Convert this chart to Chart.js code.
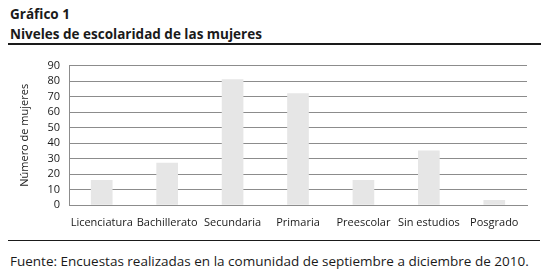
<!DOCTYPE html>
<html>
<head>
<meta charset="utf-8">
<script src="https://cdn.jsdelivr.net/npm/chart.js@4"></script>
<style>
    body { margin: 0; background: #fff; font-family: "Open Sans", sans-serif; color: #1a1a1a; }
    #page { position: relative; width: 547px; height: 277px; overflow: hidden; }
    .txt { position: absolute; left: 10px; font-size: 13.5px; line-height: 16px; white-space: nowrap; }
    .bold { font-weight: bold; }
    .rule { position: absolute; left: 8px; width: 533px; background: #1a1a1a; }
    #grafico { position: absolute; left: 0; top: 50px; }
</style>
</head>
<body>
<div id="page">
    <div class="txt bold" style="top:6px">Gráfico 1</div>
    <div class="txt bold" style="top:26px">Niveles de escolaridad de las mujeres</div>
    <div class="rule" style="top:43px;height:2px"></div>
    <canvas id="grafico" width="547" height="185"></canvas>
    <div class="rule" style="top:240px;height:1px;width:532px"></div>
    <div class="txt" style="top:253px">Fuente: Encuestas realizadas en la comunidad de septiembre a diciembre de 2010.</div>
</div>
<script>
    // datos
    var categorias = ['Licenciatura', 'Bachillerato', 'Secundaria', 'Primaria', 'Preescolar', 'Sin estudios', 'Posgrado'];
    var mujeres = [16, 27, 81, 72, 16, 35, 3];
    var ejeY = { min: 0, max: 90, paso: 10 };

    var fuente = { family: '"Open Sans", sans-serif', size: 11 };

    new Chart(document.getElementById('grafico'), {
        type: 'bar',
        data: {
            labels: categorias,
            datasets: [{
                data: mujeres,
                backgroundColor: '#e6e6e6',
                borderWidth: 0,
                barThickness: 21
            }]
        },
        options: {
            responsive: false,
            animation: false,
            layout: { padding: { top: 15, right: 20, left: 0, bottom: 0 } },
            plugins: { legend: { display: false }, tooltip: { enabled: false } },
            scales: {
                x: {
                    grid: { display: false, drawTicks: false },
                    border: { color: '#8c8c8c', width: 1 },
                    ticks: { color: '#1a1a1a', font: fuente, padding: 11, maxRotation: 0, autoSkip: false },
                    afterFit: function (scale) { scale.height = 30; }
                },
                y: {
                    min: ejeY.min,
                    max: ejeY.max,
                    grid: { color: '#8c8c8c', drawTicks: false },
                    border: { color: '#8c8c8c', width: 1 },
                    ticks: { stepSize: ejeY.paso, color: '#1a1a1a', font: fuente, padding: 9, autoSkip: false },
                    title: {
                        display: true,
                        text: 'Número de mujeres',
                        color: '#1a1a1a',
                        font: fuente,
                        padding: { top: 18, bottom: 0 }
                    },
                    afterFit: function (scale) { scale.width = 69; }
                }
            }
        }
    });
</script>
</body>
</html>
